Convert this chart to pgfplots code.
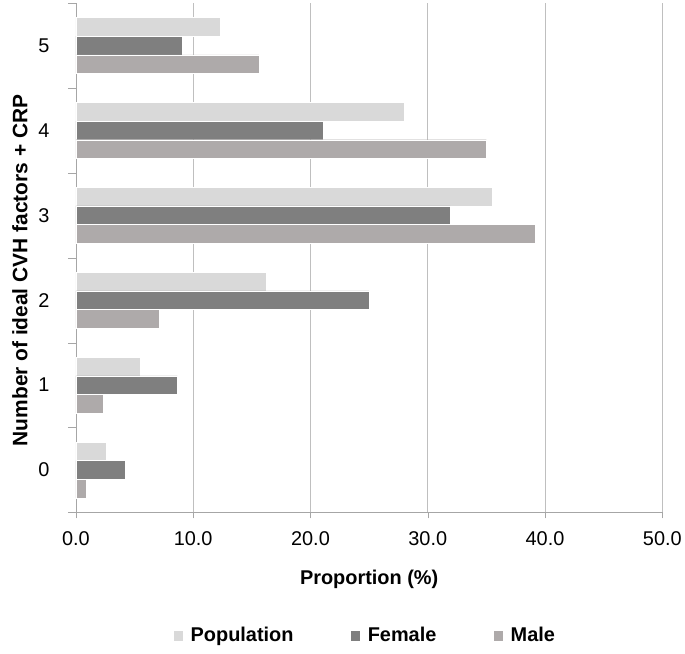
\documentclass[border=0pt]{standalone}
\usepackage{pgfplots}
\pgfplotsset{compat=1.18}
\usepackage{fontspec}
\setmainfont{Liberation Sans}
\definecolor{popc}{HTML}{D9D9D9}
\definecolor{femc}{HTML}{7F7F7F}
\definecolor{malc}{HTML}{AEAAAA}
\definecolor{gridc}{HTML}{BFBFBF}
\definecolor{axc}{HTML}{A6A6A6}
\begin{document}
\begin{tikzpicture}
\begin{axis}[
  scale only axis,
  width=587bp, height=510bp,
  xmin=0, xmax=50,
  ymin=-0.5, ymax=5.5,
  xtick={0,10,...,50},
  ytick={0,...,5},
  minor ytick={-0.5,0.5,...,5.5},
  major y tick style={draw=none},
  minor y tick style={draw=axc},
  minor tick length=8bp,
  major tick length=6bp,
  xtick style={draw=axc},
  tick align=outside,
  xmajorgrids,
  grid style={gridc, line width=0.8pt},
  axis x line*=bottom,
  axis y line*=left,
  axis line style={axc, line width=0.8pt, -},
  /pgf/number format/assume math mode=true,
  xticklabel={\pgfmathprintnumber[fixed,fixed zerofill,precision=1]{\tick}},
  xticklabel style={font=\fontsize{20}{23}\selectfont, yshift=-10bp},
  yticklabel style={font=\fontsize{20}{23}\selectfont, xshift=-17bp},
  xlabel={\textbf{Proportion (\%)}},
  xlabel style={font=\fontsize{20}{23}\selectfont, at={(axis description cs:0.5,0)}, anchor=center, yshift=-67bp},
  ylabel={\textbf{Number of ideal CVH factors + CRP}},
  ylabel style={font=\fontsize{21}{24}\selectfont, at={(axis description cs:-0.0954,0.475)}, anchor=center},
  xbar, bar width=0.22,
  legend style={at={(axis description cs:0.5,0)}, anchor=center, xshift=-4bp, yshift=-123bp, draw=none, legend columns=3,
    font=\bfseries\fontsize{20}{23}\selectfont,
    /tikz/every even column/.append style={column sep=55bp}},
  legend image code/.code={\path (0bp,0bp) -- (15bp,0bp); \fill[#1] (0bp,-5.5bp) rectangle (10bp,5.5bp);},
]
\addplot[fill=popc, draw=white, line width=0.4pt, bar shift=0.22] coordinates {(2.55,0) (5.5,1) (16.2,2) (35.5,3) (28.0,4) (12.3,5)};
\addplot[fill=femc, draw=white, line width=0.4pt, bar shift=0] coordinates {(4.2,0) (8.65,1) (25.0,2) (31.9,3) (21.1,4) (9.05,5)};
\addplot[fill=malc, draw=white, line width=0.4pt, bar shift=-0.22] coordinates {(0.85,0) (2.3,1) (7.1,2) (39.2,3) (35.0,4) (15.6,5)};
\legend{Population, Female, Male}
\end{axis}
\path ([xshift=-76bp,yshift=-141bp]current axis.south west) rectangle ([xshift=22bp,yshift=3bp]current axis.north east);
\end{tikzpicture}
\end{document}
